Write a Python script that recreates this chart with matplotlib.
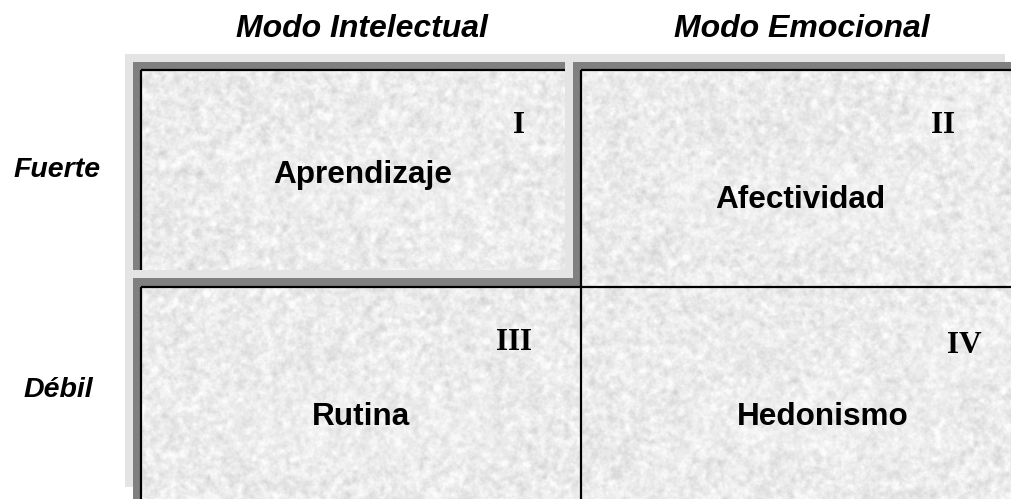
import numpy as np
import matplotlib
matplotlib.use("Agg")
import matplotlib.pyplot as plt
from matplotlib.patches import Rectangle

# ---- content ----
col_labels = ["Modo Intelectual", "Modo Emocional"]
row_labels = ["Fuerte", "Débil"]
quad_labels = ["Aprendizaje", "Afectividad", "Rutina", "Hedonismo"]
quad_numerals = ["I", "II", "III", "IV"]

W, H = 1011, 499
fig = plt.figure(figsize=(W / 100, H / 100), dpi=100)
ax = fig.add_axes([0, 0, 1, 1])
ax.set_xlim(0, W)
ax.set_ylim(H, 0)
ax.axis("off")

# ---- deterministic granite-like texture (decorative) ----
yy, xx = np.mgrid[0:H, 0:W].astype(float)
def hashn(x, y, a, b):
    v = np.sin(x * a + y * b) * 43758.5453
    return v - np.floor(v)
def blur(img, k):
    out = np.zeros_like(img)
    cnt = 0
    for dy in range(-k, k + 1):
        for dx in range(-k, k + 1):
            out += np.roll(np.roll(img, dy, 0), dx, 1)
            cnt += 1
    return out / cnt
n1 = blur(hashn(xx, yy, 12.9898, 78.233), 1)
n2 = blur(blur(hashn(xx, yy, 39.346, 11.135), 2), 2)
t1 = (n1 - n1.mean()) / n1.std()
t2 = (n2 - n2.mean()) / n2.std()
t = 0.45 * t1 + 0.75 * t2
tex = np.clip(0.925 + 0.03 * t, 0.76, 0.99)
tex_rgb = np.dstack([tex, tex, tex])

def texture(x0, y0, x1, y1):
    sub = tex_rgb[int(y0):int(y1), int(x0):int(x1)]
    ax.imshow(sub, extent=(x0, x1, y1, y0), interpolation="nearest",
              aspect="auto", zorder=3)

def rect(x0, y0, x1, y1, color, z):
    ax.add_patch(Rectangle((x0, y0), x1 - x0, y1 - y0, facecolor=color,
                           edgecolor="none", zorder=z))

def line(xs, ys):
    ax.plot(xs, ys, color="black", lw=1.6, solid_capstyle="butt", zorder=5)

LIGHT = "#e4e4e4"
DARK = "#808080"

# outer light panel
rect(125, 54, 1005, 487, LIGHT, 1)
# dark bands
rect(133, 62, 565, 270, DARK, 2)      # I
rect(573, 62, W, 287, DARK, 2)        # II
rect(133, 278, 580, H, DARK, 2)       # III

# textures
texture(141, 70, 565, 270)    # I
texture(581, 71, W, 287)      # II
texture(141, 287, 580, H)     # III
texture(581, 288, W, H)       # IV

# black lines
line([140.5, 140.5], [69.5, 270])
line([140.5, 565], [69.5, 69.5])
line([580.5, W], [70, 70])
line([580.5, 580.5], [70, H])
line([140.5, 580.5], [286.5, 286.5])
line([140.5, 140.5], [286.5, H])
line([580.5, W], [287, 287])

# faint text-box outlines
boxes = [(228, 143, 493, 216), (493, 94, 537, 143),
         (668, 166, 933, 240), (908, 94, 977, 143),
         (228, 383, 493, 456), (470, 312, 558, 360),
         (690, 383, 955, 456), (908, 312, 1011, 383)]
for b in boxes:
    ax.add_patch(Rectangle((b[0], b[1]), b[2] - b[0], b[3] - b[1],
                           facecolor="white", alpha=0.12,
                           edgecolor="#f6f6f6", lw=0.8, zorder=4))

sans = ["Liberation Sans", "DejaVu Sans"]
serif = ["Liberation Serif", "DejaVu Serif"]

# column headers
for lab, cx in zip(col_labels, [362, 802]):
    ax.text(cx, 37, lab, ha="center", va="baseline", fontsize=23,
            fontweight="bold", fontstyle="italic", family=sans, zorder=6)
# row labels
for lab, cx, by in zip(row_labels, [57, 58], [177, 397]):
    ax.text(cx, by, lab, ha="center", va="baseline", fontsize=20.5,
            fontweight="bold", fontstyle="italic", family=sans, zorder=6)
# quadrant labels
for lab, cx, by in zip(quad_labels, [363, 800, 361, 823], [183, 208, 425, 425]):
    ax.text(cx, by, lab, ha="center", va="baseline", fontsize=22.7,
            fontweight="bold", family=sans, zorder=6)
# numerals
for lab, cx, by in zip(quad_numerals, [519, 943, 514, 964], [133, 133, 350, 353]):
    ax.text(cx, by, lab, ha="center", va="baseline", fontsize=22.5,
            fontweight="bold", family=serif, zorder=6)

fig.savefig("out.png", dpi=100)
